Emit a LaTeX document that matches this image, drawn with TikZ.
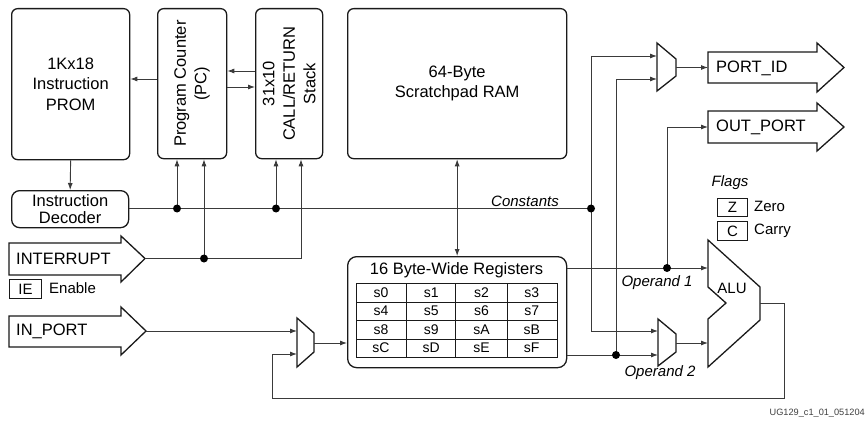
\documentclass[tikz,border=0pt]{standalone}
\usepackage{fontspec}
\setmainfont{Liberation Sans}
\usetikzlibrary{arrows.meta,calc}

\definecolor{wirecol}{HTML}{3A3A3A}
\definecolor{inkcol}{HTML}{1A1A1A}

\newcommand\fbig{\fontsize{16.5}{20.5}\selectfont}
\newcommand\fdec{\fontsize{16.5}{17.5}\selectfont}
\newcommand\fmid{\fontsize{15}{18}\selectfont}
\newcommand\fcell{\fontsize{14}{16}\selectfont}
\newcommand\ftiny{\fontsize{9.2}{11}\selectfont}

\begin{document}
\begin{tikzpicture}[x=1pt,y=-1pt,
  blk/.style={draw=inkcol, line width=1.3pt, rounded corners=6pt, inner sep=0pt,
              anchor=north west, align=center, font=\fbig},
  shp/.style={draw=inkcol, line width=1.3pt, line join=miter},
  wire/.style={draw=wirecol, line width=0.9pt},
  arr/.style={wire, -{Latex[length=7pt,width=5pt]}},
  biarr/.style={wire, {Latex[length=7pt,width=5pt]}-{Latex[length=7pt,width=5pt]}},
  jdot/.style={circle, fill=black, inner sep=0pt, minimum size=8pt},
  flagbox/.style={draw=inkcol, line width=1.1pt, inner sep=0pt, anchor=north west,
                  font=\fmid},
  lab/.style={inner sep=0pt, font=\fmid},
  ilab/.style={inner sep=0pt, font=\fmid\itshape},
  cell/.style={inner sep=0pt, font=\fcell}
]
\fill[white] (0,0) rectangle (867,425);
\useasboundingbox (0,0) rectangle (867,425);

% ---- main blocks ----
\node[blk, minimum width=118pt, minimum height=151pt] (prom) at (11,8)
  {1Kx18\\Instruction\\PROM};
\node[blk, minimum width=69pt, minimum height=150pt] (pc) at (157,8) {};
\node[rotate=90, align=center, font=\fbig, inner sep=0pt] (pctxt) at (pc.center)
  {Program Counter\\(PC)};
\node[blk, minimum width=67pt, minimum height=150pt] (stack) at (255,8) {};
\node[rotate=90, align=center, font=\fbig, inner sep=0pt] (stacktxt) at (stack.center)
  {31x10\\CALL/RETURN\\Stack};
\node[blk, minimum width=219pt, minimum height=150pt] (ram) at (347,8)
  {64-Byte\\Scratchpad RAM};
\node[blk, font=\fdec, rounded corners=8pt, minimum width=117pt, minimum height=37pt]
  (dec) at (11,190) {Instruction\\Decoder};

% ---- register file ----
\node[blk, rounded corners=9pt, minimum width=219pt, minimum height=111pt] (regs) at (347,256) {};
\node[inner sep=0pt, font=\fbig] (regtitle) at (456.5,270.5) {16 Byte-Wide Registers};
\draw[draw=inkcol, line width=1pt] (356,283) rectangle (557,357);
\foreach \yy in {302,320.5,339} \draw[draw=inkcol, line width=1pt] (356,\yy) -- (557,\yy);
\foreach \xx in {406,455,507} \draw[draw=inkcol, line width=1pt] (\xx,283) -- (\xx,357);
\foreach \lbl [count=\i from 0] in {s0,s1,s2,s3,s4,s5,s6,s7,s8,s9,sA,sB,sC,sD,sE,sF}{
  \pgfmathtruncatemacro\row{int(\i/4)}
  \pgfmathtruncatemacro\col{mod(\i,4)}
  \pgfmathsetmacro\cx{381+50.25*\col}
  \pgfmathsetmacro\cy{292.5+18.5*\row}
  \node[cell] (r\i) at (\cx,\cy) {\lbl};
}

% ---- wide port arrows ----
\draw[shp] (9,243) -- (121,243) -- (121,236) -- (145,258.5) -- (121,282) -- (121,275) -- (9,275) -- cycle;
\coordinate (intr) at (145,258.5);
\node[anchor=west, inner sep=0pt, font=\fbig] (intrtxt) at (16,259) {INTERRUPT};

\draw[shp] (9,316) -- (121,316) -- (121,307) -- (146,331) -- (121,355) -- (121,347) -- (9,347) -- cycle;
\coordinate (inport) at (146,331);
\node[anchor=west, inner sep=0pt, font=\fbig] (inporttxt) at (16,331.5) {IN\_PORT};

\draw[shp] (708,52) -- (817,52) -- (817,43) -- (844,67.5) -- (817,92) -- (817,83) -- (708,83) -- cycle;
\coordinate (portid) at (708,67.5);
\node[anchor=west, inner sep=0pt, font=\fbig] (portidtxt) at (716,68) {PORT\_ID};

\draw[shp] (708,111) -- (817,111) -- (817,103) -- (844,127) -- (817,151) -- (817,143) -- (708,143) -- cycle;
\coordinate (outport) at (708,127);
\node[anchor=west, inner sep=0pt, font=\fbig] (outporttxt) at (716,127.5) {OUT\_PORT};

% ---- multiplexers ----
\draw[shp] (297,318) -- (314,333) -- (314,352) -- (297,367) -- cycle;
\coordinate (mA1) at (297,331); \coordinate (mA2) at (297,354); \coordinate (mAo) at (314,343);
\draw[shp] (657,43) -- (676,59) -- (676,76) -- (657,91) -- cycle;
\coordinate (mB1) at (657,56); \coordinate (mB2) at (657,79); \coordinate (mBo) at (676,67.5);
\draw[shp] (658,319) -- (676,334) -- (676,352) -- (658,366) -- cycle;
\coordinate (mC1) at (658,331); \coordinate (mC2) at (658,355); \coordinate (mCo) at (676,343);

% ---- ALU ----
\draw[shp] (708,240) -- (708,287) -- (726,303) -- (708,319) -- (708,367) -- (760,320) -- (760,287) -- cycle;
\coordinate (aluA) at (708,268); \coordinate (aluB) at (708,343); \coordinate (aluO) at (760,303);
\node[lab] (alutxt) at (732,288) {ALU};

% ---- flags and enable ----
\node[ilab] (flagstxt) at (730,183) {Flags};
\node[flagbox, minimum width=30pt, minimum height=18pt] (zf) at (717,198) {Z};
\node[lab, anchor=west] (zerotxt) at (754,206) {Zero};
\node[flagbox, minimum width=30pt, minimum height=19pt] (cf) at (717,221) {C};
\node[lab, anchor=west] (carrytxt) at (754,231) {Carry};
\node[flagbox, minimum width=32pt, minimum height=19pt] (ie) at (9,279) {IE};
\node[lab, anchor=west] (enabletxt) at (49,288.5) {Enable};

% ---- junction points ----
\coordinate (cst) at (591,208.5);
\coordinate (d1) at (177,208.5);
\coordinate (d2) at (276,208.5);
\coordinate (i1) at (204,258.5);
\coordinate (i2) at (301,258.5);
\coordinate (o1) at (667,268);
\coordinate (o2) at (616,355);
\coordinate (fb1) at (784,398);
\coordinate (fb2) at (272,398);

% ---- connectors ----
\draw[arr] (prom.south) -- (dec.north);
\draw[arr] (pc.west |- 0,79) -- (prom.east |- 0,79);
\draw[arr] (stack.west |- 0,71) -- (pc.east |- 0,71);
\draw[arr] (pc.east |- 0,87) -- (stack.west |- 0,87);
\draw[biarr] (ram.south) -- (regs.north);

\draw[wire] (dec.east |- cst) -- (cst);
\draw[arr] (d1) -- (d1 |- pc.south);
\draw[arr] (d2) -- (d2 |- stack.south);
\draw[wire] (intr) -- (i2);
\draw[arr] (i1) -- (i1 |- pc.south);
\draw[arr] (i2) -- (i2 |- stack.south);

\draw[wire] (cst |- mB1) -- (cst |- mC1);
\draw[arr] (cst |- mB1) -- (mB1);
\draw[arr] (cst |- mC1) -- (mC1);

\draw[arr] (inport) -- (mA1);
\draw[arr] (aluO) -- (fb1 |- aluO) -- (fb1) -- (fb2) -- (fb2 |- mA2) -- (mA2);
\draw[arr] (mAo) -- (mAo -| regs.west);

\draw[arr] (regs.east |- aluA) -- (aluA);
\draw[arr] (o1) -- (o1 |- outport) -- (outport);
\draw[arr] (regs.east |- mC2) -- (mC2);
\draw[arr] (o2) -- (o2 |- mB2) -- (mB2);
\draw[arr] (mBo) -- (portid);
\draw[arr] (mCo) -- (aluB);

% junction dots
\foreach \p in {d1,d2,i1,cst,o1,o2} \node[jdot] at (\p) {};

% ---- annotations ----
\node[ilab] (csttxt) at (525,201) {Constants};
\node[ilab] (op1txt) at (657,283) {Operand 1};
\node[ilab] (op2txt) at (660,373) {Operand 2};
\node[anchor=east, inner sep=0pt, font=\ftiny, text=black!75] (fig) at (865,413.5) {UG129\_c1\_01\_051204};
\end{tikzpicture}
\end{document}
